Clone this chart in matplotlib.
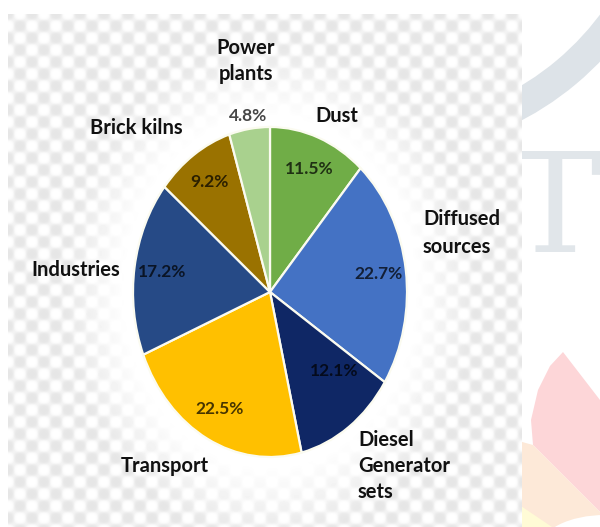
import numpy as np
import matplotlib.pyplot as plt
from matplotlib.patches import Polygon, Ellipse, Arc

# sources of PM pollution, clockwise from the top
sources = ['Dust', 'Diffused\nsources', 'Diesel\nGenerator\nsets', 'Transport',
           'Industries', 'Brick kilns', 'Power\nplants']
shares = [11.5, 22.7, 12.1, 22.5, 17.2, 9.2, 4.8]
colors = ['#70ad47', '#4472c4', '#0f2765', '#ffc000', '#264a86', '#9a7200', '#a9d18e']

W, H = 600, 527
fig = plt.figure(figsize=(W / 100, H / 100), dpi=100)
fig.patch.set_facecolor('white')

# page background in pixel units
bg = fig.add_axes([0, 0, 1, 1], zorder=0)
bg.set_xlim(0, W)
bg.set_ylim(H, 0)
bg.axis('off')

# faint watermark on the page
bg.add_patch(Arc((380, -150), 580, 580, theta1=20, theta2=80,
                 color='#dde3e8', lw=22, zorder=1))
bg.text(601, 252, 'T', fontsize=100, family='DejaVu Serif', color='#e1e6ea',
        ha='right', va='baseline', zorder=1)
bg.add_patch(Polygon([(563, 352), (600, 400), (600, 512), (533, 445),
                      (531, 420), (538, 390), (550, 366)],
                     closed=True, fc='#fdd6d8', ec='none', zorder=1))
bg.add_patch(Polygon([(515, 440), (533, 445), (600, 512), (600, 527), (515, 527)],
                     closed=True, fc='#fde9d8', ec='none', zorder=1))
bg.add_patch(Polygon([(515, 502), (552, 527), (515, 527)],
                     closed=True, fc='#fffbd6', ec='none', zorder=1))
bg.add_patch(Ellipse((605, 548), 130, 66, fc='white', ec='none', zorder=1))

# soft checkerboard behind the chart, fading out around the pie
x0, x1, y0, y1 = 8, 522, 14, 527
xs = np.arange(x0, x1) + 0.5
ys = np.arange(y0, y1) + 0.5
X, Y = np.meshgrid(xs, ys)
c = np.cos(np.pi * (X - x0) / 12) * np.cos(np.pi * (Y - y0) / 12)
d = np.sqrt(((X - 270) / 137) ** 2 + ((Y - 292) / 165) ** 2)
amp = np.clip((d - 1.05) / 0.45, 0, 1)
gray = 1 - 0.1 * amp * (0.5 + 0.5 * np.tanh(2.5 * c))
bg.imshow(gray, cmap='gray', vmin=0, vmax=1, extent=(x0, x1, y1, y0),
          interpolation='bilinear', zorder=2)
bg.set_xlim(0, W)
bg.set_ylim(H, 0)

# pie, stretched slightly taller than wide
ax = fig.add_axes([0, 0, 1, 1], zorder=2)
ax.patch.set_alpha(0)
wedges, _, pcts = ax.pie(shares, colors=colors, startangle=90, counterclock=False,
                         autopct='%.1f%%', pctdistance=0.8,
                         wedgeprops=dict(edgecolor='#fbfbf0', linewidth=1.6),
                         textprops=dict(fontsize=12.5, family='Lato', weight='bold',
                                        color='black', alpha=0.72))
ax.set_aspect('auto')
ax.set_xlim(-270 / 137, 330 / 137)
ax.set_ylim(-235 / 165, 292 / 165)
ax.axis('off')

pcts[6].set_position((-0.16, 1.067))
pcts[2].set_position((0.467, -0.479))

label_style = dict(fontsize=14.5, family='Lato', weight='bold', color='#111111')
ax.text(0.489, 1.067, sources[0], ha='center', va='center', **label_style)
ax.text(1.117, 0.358, sources[1], ha='left', va='center', linespacing=1.5, **label_style)
ax.text(0.642, -1.055, sources[2], ha='left', va='center', linespacing=1.4, **label_style)
ax.text(-0.766, -1.055, sources[3], ha='center', va='center', **label_style)
ax.text(-1.416, 0.133, sources[4], ha='center', va='center', **label_style)
ax.text(-0.978, 0.994, sources[5], ha='center', va='center', **label_style)
ax.text(-0.175, 1.40, sources[6], ha='center', va='center', linespacing=1.4, **label_style)

fig.savefig('out.png', dpi=100, facecolor='white')
